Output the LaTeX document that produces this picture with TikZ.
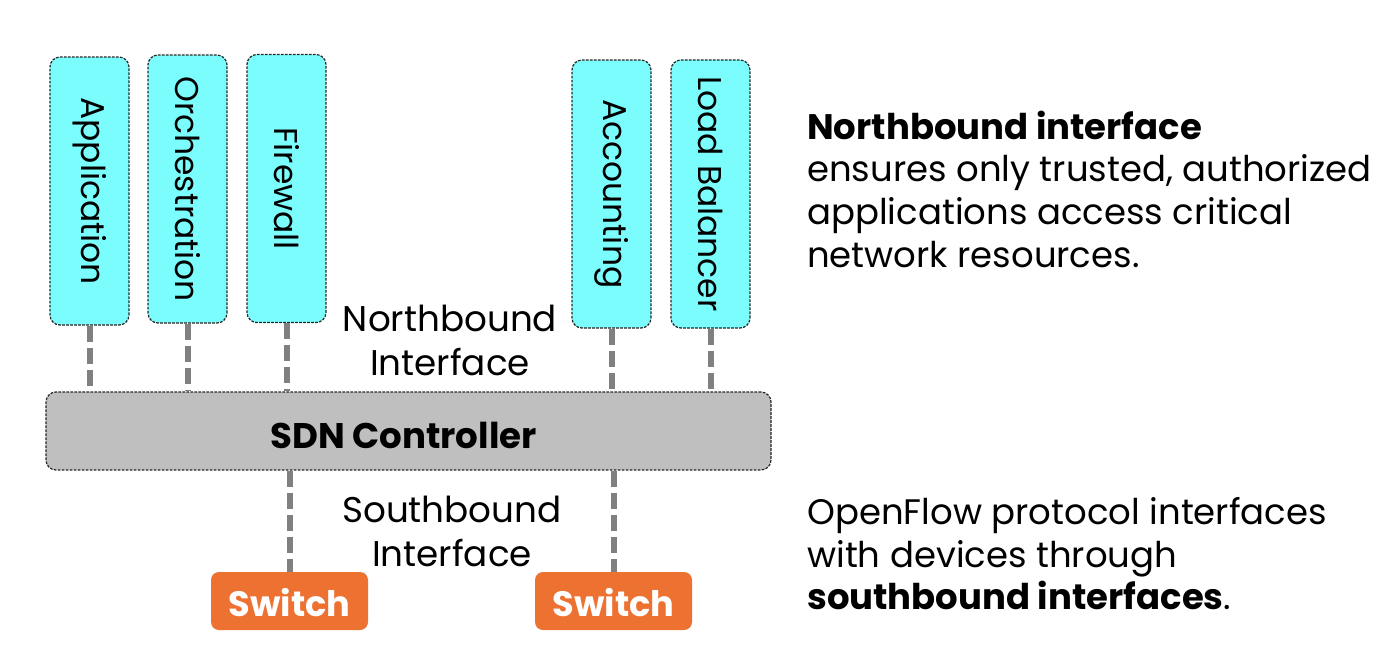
\documentclass[tikz,border=0pt]{standalone}
\usepackage{fontspec}
\setmainfont{Poppins}
\definecolor{boxcyan}{HTML}{7CFDFD}
\definecolor{ctrlgray}{HTML}{BFBFBF}
\definecolor{swor}{HTML}{ED7131}
\definecolor{conngray}{HTML}{808080}
\definecolor{edgegray}{HTML}{262626}
\tikzset{
  appbox/.style={draw=edgegray, line width=0.9pt, dash pattern=on 2pt off 1pt, fill=boxcyan,
    rounded corners=7.5pt, rotate=-90, minimum width=201pt, minimum height=59.25pt,
    inner sep=0pt, font=\fontsize{24.7}{29}\selectfont},
  ctrlbox/.style={draw=edgegray, line width=0.9pt, dash pattern=on 2pt off 1pt, fill=ctrlgray,
    rounded corners=7.5pt, minimum width=543.75pt, minimum height=58.5pt, inner sep=0pt,
    text height=25.8pt, text depth=0pt,
    font=\fontsize{26.7}{32}\selectfont\bfseries},
  swbox/.style={fill=swor, rounded corners=6pt, minimum width=117.75pt, minimum height=43.5pt,
    inner sep=0pt, text=white, text height=22.5pt, text depth=0pt,
    font=\fontsize{26.4}{32}\selectfont\bfseries},
  conn/.style={draw=conngray, line width=4.5pt, dash pattern=on 12pt off 4.5pt},
  lbl/.style={align=center, inner sep=0pt, font=\fontsize{26.8}{33}\selectfont},
  side/.style={align=left, inner sep=0pt, anchor=north west, font=\fontsize{26.6}{32}\selectfont},
}
\begin{document}
\begin{tikzpicture}[x=0.75pt, y=-0.75pt]
\useasboundingbox (0,0) rectangle (1392,668);
\node[appbox] (app) at (89.5,191) {Application};
\node[appbox] (orch) at (187.5,189) {Orchestration};
\node[appbox] (fire) at (286.5,188.5) {Firewall};
\node[appbox] (acc) at (611.5,194) {Accounting};
\node[appbox] (lb) at (710.5,194) {Load Balancer};
\node[ctrlbox] (ctrl) at (408.5,431) {\hspace*{-7.5pt}SDN Controller};
\node[swbox] (sw1) at (289.5,601) {Switch};
\node[swbox] (sw2) at (613.5,601) {Switch};
\foreach \n in {app,orch,fire,acc,lb}
  \draw[conn] (\n.east) -- (\n.east |- ctrl.north);
\foreach \n in {sw1,sw2}
  \draw[conn] (\n.north |- ctrl.south) -- (\n.north);
\node[lbl] (nbl) at (450,340.5) {Northbound\\Interface};
\node[lbl] (sbl) at (452,531) {Southbound\\Interface};
\node[side] (nbt) at (807,110.5) {\textbf{Northbound interface}\\ensures only trusted, authorized\\applications access critical\\network resources.};
\node[side] (sbt) at (807,497) {OpenFlow protocol interfaces\\with devices through\\\textbf{southbound interfaces}.};
\end{tikzpicture}
\end{document}
